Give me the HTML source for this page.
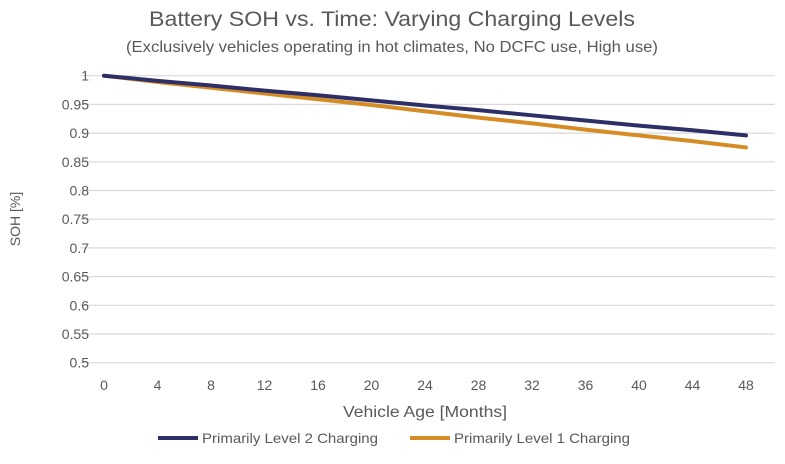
<!DOCTYPE html>
<html><head><meta charset="utf-8"><style>
body{margin:0;background:#fff;font-family:"Liberation Sans",sans-serif;}
svg text{font-family:"Liberation Sans",sans-serif;fill:#595959;}
</style></head><body>
<svg width="785" height="459">
<text x="392" y="26" text-anchor="middle" font-size="21" textLength="486" lengthAdjust="spacingAndGlyphs">Battery SOH vs. Time: Varying Charging Levels</text>
<text x="392" y="52" text-anchor="middle" font-size="15.5" textLength="532" lengthAdjust="spacingAndGlyphs">(Exclusively vehicles operating in hot climates, No DCFC use, High use)</text>
<g id="grid"></g><g id="lines"></g>
<text transform="translate(20,219) rotate(-90)" text-anchor="middle" font-size="14">SOH [%]</text>
<text x="425" y="417" text-anchor="middle" font-size="15.5" textLength="164" lengthAdjust="spacingAndGlyphs">Vehicle Age [Months]</text>
<g>
<line x1="158" y1="438" x2="198" y2="438" stroke="#2e2f66" stroke-width="4"/>
<text x="202" y="443" font-size="14" textLength="176" lengthAdjust="spacingAndGlyphs">Primarily Level 2 Charging</text>
<line x1="410" y1="438" x2="450" y2="438" stroke="#d68c24" stroke-width="4"/>
<text x="454" y="443" font-size="14" textLength="176" lengthAdjust="spacingAndGlyphs">Primarily Level 1 Charging</text>
</g>
</svg>
<script>
const months=[0,4,8,12,16,20,24,28,32,36,40,44,48];
const level2=[1,0.991,0.983,0.974,0.966,0.957,0.948,0.940,0.931,0.922,0.913,0.905,0.896];
const level1=[1,0.989,0.979,0.969,0.959,0.949,0.938,0.927,0.917,0.906,0.896,0.886,0.875];
const yTicks=[1,0.95,0.9,0.85,0.8,0.75,0.7,0.65,0.6,0.55,0.5];
const yTickLabels=["1","0.95","0.9","0.85","0.8","0.75","0.7","0.65","0.6","0.55","0.5"];
const xs=m=>104+m*(746-104)/48;
const ys=v=>75.7+(1-v)*(362.7-75.7)/0.5;
const NS="http://www.w3.org/2000/svg";
const g=document.getElementById('grid');
yTicks.forEach((t,i)=>{
 const l=document.createElementNS(NS,'line');
 l.setAttribute('x1',80);l.setAttribute('x2',775);l.setAttribute('y1',ys(t));l.setAttribute('y2',ys(t));
 l.setAttribute('stroke','#d9d9d9');l.setAttribute('stroke-width','1.2');
 
 
 g.appendChild(l);
 const tx=document.createElementNS(NS,'text');
 tx.setAttribute('x',89);tx.setAttribute('y',ys(t)+5);tx.setAttribute('text-anchor','end');tx.setAttribute('font-size','14');
 tx.textContent=yTickLabels[i];
 
 
 g.appendChild(tx);
});
months.forEach(m=>{
 const tx=document.createElementNS(NS,'text');
 tx.setAttribute('x',xs(m));tx.setAttribute('y',390);tx.setAttribute('text-anchor','middle');tx.setAttribute('font-size','14');
 tx.textContent=m;
 
 
 g.appendChild(tx);
});
const L=document.getElementById('lines');
[[level1,'#d68c24','line-level1'],[level2,'#2e2f66','line-level2']].forEach(([d,c,n])=>{
 const p=document.createElementNS(NS,'polyline');
 p.setAttribute('points',d.map((v,i)=>xs(months[i])+','+ys(v)).join(' '));
 p.setAttribute('fill','none');p.setAttribute('stroke',c);p.setAttribute('stroke-width','4');p.setAttribute('stroke-linecap','round');
 
 
 L.appendChild(p);
});
</script>
</body></html>
